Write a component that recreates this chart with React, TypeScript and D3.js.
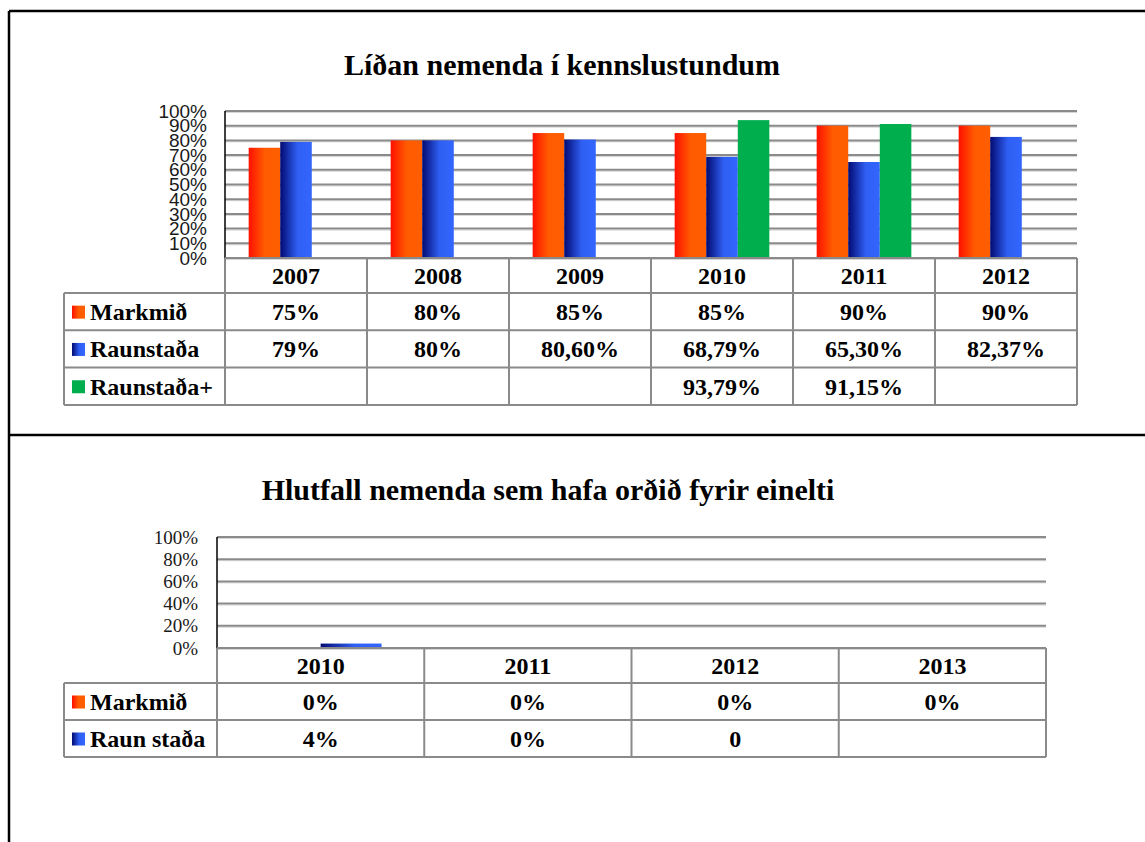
import React from 'react';
import * as d3 from 'd3';

// Chart 1 – Líðan nemenda í kennslustundum
const years1 = ['2007', '2008', '2009', '2010', '2011', '2012'];
const markmid1 = [75, 80, 85, 85, 90, 90];
const raunstada1 = [79, 80, 80.6, 68.79, 65.3, 82.37];
const raunstadaPlus1 = [null, null, null, 93.79, 91.15, null];
const markmidLabels1 = ['75%', '80%', '85%', '85%', '90%', '90%'];
const raunstadaLabels1 = ['79%', '80%', '80,60%', '68,79%', '65,30%', '82,37%'];
const raunstadaPlusLabels1 = ['', '', '', '93,79%', '91,15%', ''];
const yTicks1 = [0, 10, 20, 30, 40, 50, 60, 70, 80, 90, 100];

// Chart 2 – Hlutfall nemenda sem hafa orðið fyrir einelti
const years2 = ['2010', '2011', '2012', '2013'];
const markmid2 = [0, 0, 0, 0];
const raunstada2 = [4, 0, 0, null];
const markmidLabels2 = ['0%', '0%', '0%', '0%'];
const raunstadaLabels2 = ['4%', '0%', '0', ''];
const yTicks2 = [0, 20, 40, 60, 80, 100];

const SERIF = "'Liberation Serif', 'Times New Roman', serif";
const SANS = "'Liberation Sans', Arial, sans-serif";
const GRID = '#8a8a8a';

type Series = { name: string; values: (number | null)[]; labels: string[]; fill: string };

type Cfg = {
  title: string;
  titleX: number;
  titleY: number;
  categories: string[];
  series: Series[];
  ticks: number[];
  left: number;
  right: number;
  top: number;
  bottom: number;
  tableLeft: number;
  headerH: number;
  rowH: number;
  outerPad: number;
  axisFont: string;
  axisSize: number;
  axisX: number;
};

const Chart = ({ cfg }: { cfg: Cfg }) => {
  const x = d3.scaleBand().domain(cfg.categories).range([cfg.left, cfg.right]);
  const x1 = d3
    .scaleBand()
    .domain(cfg.series.map((s) => s.name))
    .range([0, x.bandwidth()])
    .paddingOuter(cfg.outerPad);
  const y = d3.scaleLinear().domain([0, 100]).range([cfg.bottom, cfg.top]);

  const headerBottom = cfg.bottom + cfg.headerH;
  const tableBottom = headerBottom + cfg.rowH * cfg.series.length;
  const rowTop = (i: number) => headerBottom + i * cfg.rowH;

  return (
    <g>
      <text
        x={cfg.titleX}
        y={cfg.titleY}
        textAnchor="middle"
        fontFamily={SERIF}
        fontWeight="bold"
        fontSize={30}
      >
        {cfg.title}
      </text>

      {/* gridlines */}
      {cfg.ticks.map((t) => (
        <g key={t}>
          <line x1={cfg.left} x2={cfg.right} y1={y(t) + 1.5} y2={y(t) + 1.5} stroke="#d6d6d6" strokeWidth={1} />
          <line x1={cfg.left} x2={cfg.right} y1={y(t)} y2={y(t)} stroke={GRID} strokeWidth={2} />
        </g>
      ))}

      {/* y labels */}
      {cfg.ticks.map((t) => (
        <text
          key={'l' + t}
          x={cfg.axisX}
          y={y(t)}
          dy="0.35em"
          textAnchor="end"
          fontFamily={cfg.axisFont}
          fontSize={cfg.axisSize}
          fill="#1a1a1a"
        >
          {t + '%'}
        </text>
      ))}

      {/* bars */}
      {cfg.series.map((s) =>
        s.values.map((v, i) =>
          v == null || v === 0 ? null : (
            <rect
              key={s.name + i}
              x={(x(cfg.categories[i]) as number) + (x1(s.name) as number)}
              y={y(v)}
              width={x1.bandwidth()}
              height={cfg.bottom - y(v)}
              fill={s.fill}
            />
          )
        )
      )}

      {/* y axis line */}
      <line x1={cfg.left} x2={cfg.left} y1={cfg.top} y2={cfg.bottom} stroke="#000" strokeWidth={1.5} />

      {/* data table */}
      <g stroke={GRID} strokeWidth={2} fill="none">
        <line x1={cfg.left} x2={cfg.right} y1={cfg.bottom} y2={cfg.bottom} />
        {cfg.series.map((s, i) => (
          <line key={'h' + i} x1={cfg.tableLeft} x2={cfg.right} y1={rowTop(i)} y2={rowTop(i)} />
        ))}
        <line x1={cfg.tableLeft} x2={cfg.right} y1={tableBottom} y2={tableBottom} />
        <line x1={cfg.tableLeft} x2={cfg.tableLeft} y1={headerBottom} y2={tableBottom} />
        <line x1={cfg.left} x2={cfg.left} y1={cfg.bottom} y2={tableBottom} />
        {cfg.categories.map((c) => (
          <line
            key={'v' + c}
            x1={(x(c) as number) + x.bandwidth()}
            x2={(x(c) as number) + x.bandwidth()}
            y1={cfg.bottom}
            y2={tableBottom}
          />
        ))}
      </g>

      {cfg.categories.map((c) => (
        <text
          key={'c' + c}
          x={(x(c) as number) + x.bandwidth() / 2}
          y={cfg.bottom + cfg.headerH / 2 + 8.5}
          textAnchor="middle"
          fontFamily={SERIF}
          fontWeight="bold"
          fontSize={24}
        >
          {c}
        </text>
      ))}

      {cfg.series.map((s, i) => (
        <g key={'r' + s.name}>
          <rect x={cfg.tableLeft + 8} y={rowTop(i) + cfg.rowH / 2 - 6} width={13} height={13} fill={s.fill} />
          <text
            x={cfg.tableLeft + 26}
            y={rowTop(i) + cfg.rowH / 2 + 8.5}
            fontFamily={SERIF}
            fontWeight="bold"
            fontSize={24}
          >
            {s.name}
          </text>
          {s.labels.map((lab, j) => (
            <text
              key={j}
              x={(x(cfg.categories[j]) as number) + x.bandwidth() / 2}
              y={rowTop(i) + cfg.rowH / 2 + 8.5}
              textAnchor="middle"
              fontFamily={SERIF}
              fontWeight="bold"
              fontSize={24}
            >
              {lab}
            </text>
          ))}
        </g>
      ))}
    </g>
  );
};

const App = () => {
  const chart1: Cfg = {
    title: 'Líðan nemenda í kennslustundum',
    titleX: 562,
    titleY: 75,
    categories: years1,
    series: [
      { name: 'Markmið', values: markmid1, labels: markmidLabels1, fill: 'url(#gOrange)' },
      { name: 'Raunstaða', values: raunstada1, labels: raunstadaLabels1, fill: 'url(#gBlue)' },
      { name: 'Raunstaða+', values: raunstadaPlus1, labels: raunstadaPlusLabels1, fill: '#00ae4e' },
    ],
    ticks: yTicks1,
    left: 225,
    right: 1077,
    top: 111,
    bottom: 258,
    tableLeft: 64,
    headerH: 35,
    rowH: 37.3,
    outerPad: 0.75,
    axisFont: SANS,
    axisSize: 19,
    axisX: 207,
  };

  const chart2: Cfg = {
    title: 'Hlutfall nemenda sem hafa orðið fyrir einelti',
    titleX: 548,
    titleY: 500,
    categories: years2,
    series: [
      { name: 'Markmið', values: markmid2, labels: markmidLabels2, fill: 'url(#gOrange)' },
      { name: 'Raun staða', values: raunstada2, labels: raunstadaLabels2, fill: 'url(#gBlue)' },
    ],
    ticks: yTicks2,
    left: 217,
    right: 1046,
    top: 537,
    bottom: 648,
    tableLeft: 64,
    headerH: 35,
    rowH: 37,
    outerPad: 0.7,
    axisFont: SERIF,
    axisSize: 19,
    axisX: 198,
  };

  return (
    <svg
      width={1145}
      height={842}
      style={{ position: 'absolute', left: 0, top: 0, background: '#fff' }}
    >
      <defs>
        <linearGradient id="gOrange" x1="0" x2="1" y1="0" y2="0">
          <stop offset="0" stopColor="#ff1000" />
          <stop offset="0.5" stopColor="#ff5a00" />
          <stop offset="1" stopColor="#ff5e00" />
        </linearGradient>
        <linearGradient id="gBlue" x1="0" x2="1" y1="0" y2="0">
          <stop offset="0" stopColor="#020a72" />
          <stop offset="0.55" stopColor="#2f5ff2" />
          <stop offset="1" stopColor="#3366ff" />
        </linearGradient>
      </defs>
      <rect width={1145} height={842} fill="#fff" />

      {/* frame */}
      <g stroke="#000" strokeWidth={2.5}>
        <line x1={9} x2={1145} y1={11} y2={11} />
        <line x1={9} x2={9} y1={11} y2={842} />
        <line x1={9} x2={1145} y1={435} y2={435} />
      </g>

      <Chart cfg={chart1} />
      <Chart cfg={chart2} />
    </svg>
  );
};

export default App;
